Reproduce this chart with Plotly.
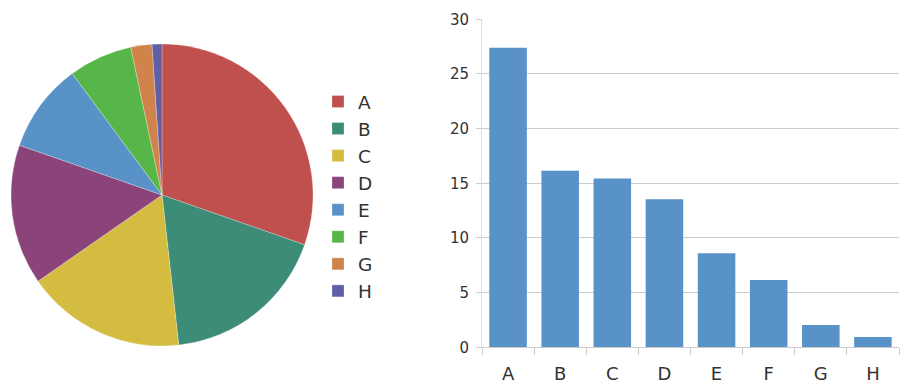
import plotly.graph_objects as go

W, H = 901, 383

categories = ["A", "B", "C", "D", "E", "F", "G", "H"]
values = [27.4, 16.15, 15.45, 13.55, 8.6, 6.15, 2.05, 0.95]
slice_colors = ["#c0504d", "#3d8c78", "#d3bc3f", "#8b4479",
                "#5892c6", "#57b648", "#d0834a", "#5f5fa8"]
bar_color = "#5892c6"
y_ticks = [0, 5, 10, 15, 20, 25, 30]

FONT = "DejaVu Sans"
TXT = "#333333"
GRID = "#cccccc"

fig = go.Figure()

fig.add_trace(go.Pie(
    labels=categories,
    values=values,
    sort=False,
    direction="clockwise",
    rotation=0,
    marker=dict(colors=slice_colors, line=dict(color="rgba(255,255,255,0.5)", width=0.5)),
    textinfo="none",
    hoverinfo="label+value",
    domain=dict(x=[11 / W, 313 / W], y=[(H - 346) / H, (H - 44) / H]),
    showlegend=True,
))

fig.add_trace(go.Bar(
    x=categories,
    y=values,
    marker=dict(color=bar_color, line=dict(width=0)),
    xaxis="x",
    yaxis="y",
    showlegend=False,
))

fig.update_layout(
    width=W,
    height=H,
    margin=dict(l=0, r=0, t=0, b=0, autoexpand=False),
    paper_bgcolor="white",
    plot_bgcolor="white",
    font=dict(family=FONT, color=TXT),
    bargap=0.28,
    legend=dict(
        x=318 / W, y=(H - 83) / H, xanchor="left", yanchor="top",
        font=dict(family=FONT, size=18.5, color=TXT),
        bgcolor="rgba(0,0,0,0)",
        itemwidth=30,
    ),
    xaxis=dict(
        domain=[482 / W, 899 / W],
        anchor="y",
        type="category",
        automargin=False,
        showline=True, linecolor=GRID, linewidth=1,
        ticks="outside", tickson="boundaries", ticklen=7, tickcolor=GRID,
        ticklabelstandoff=10,
        tickfont=dict(family=FONT, size=18, color=TXT),
        showgrid=False,
        zeroline=False,
    ),
    yaxis=dict(
        domain=[(H - 347.3) / H, (H - 19.3) / H],
        anchor="x",
        range=[0, 30],
        tickvals=y_ticks,
        automargin=False,
        showline=True, linecolor="#dddddd", linewidth=1,
        ticks="outside", ticklen=5, tickcolor=GRID,
        ticklabelstandoff=4,
        showgrid=True, gridcolor=GRID, gridwidth=1,
        zeroline=False,
        tickfont=dict(family=FONT, size=15, color=TXT),
    ),
)

fig.write_html("out.html")
